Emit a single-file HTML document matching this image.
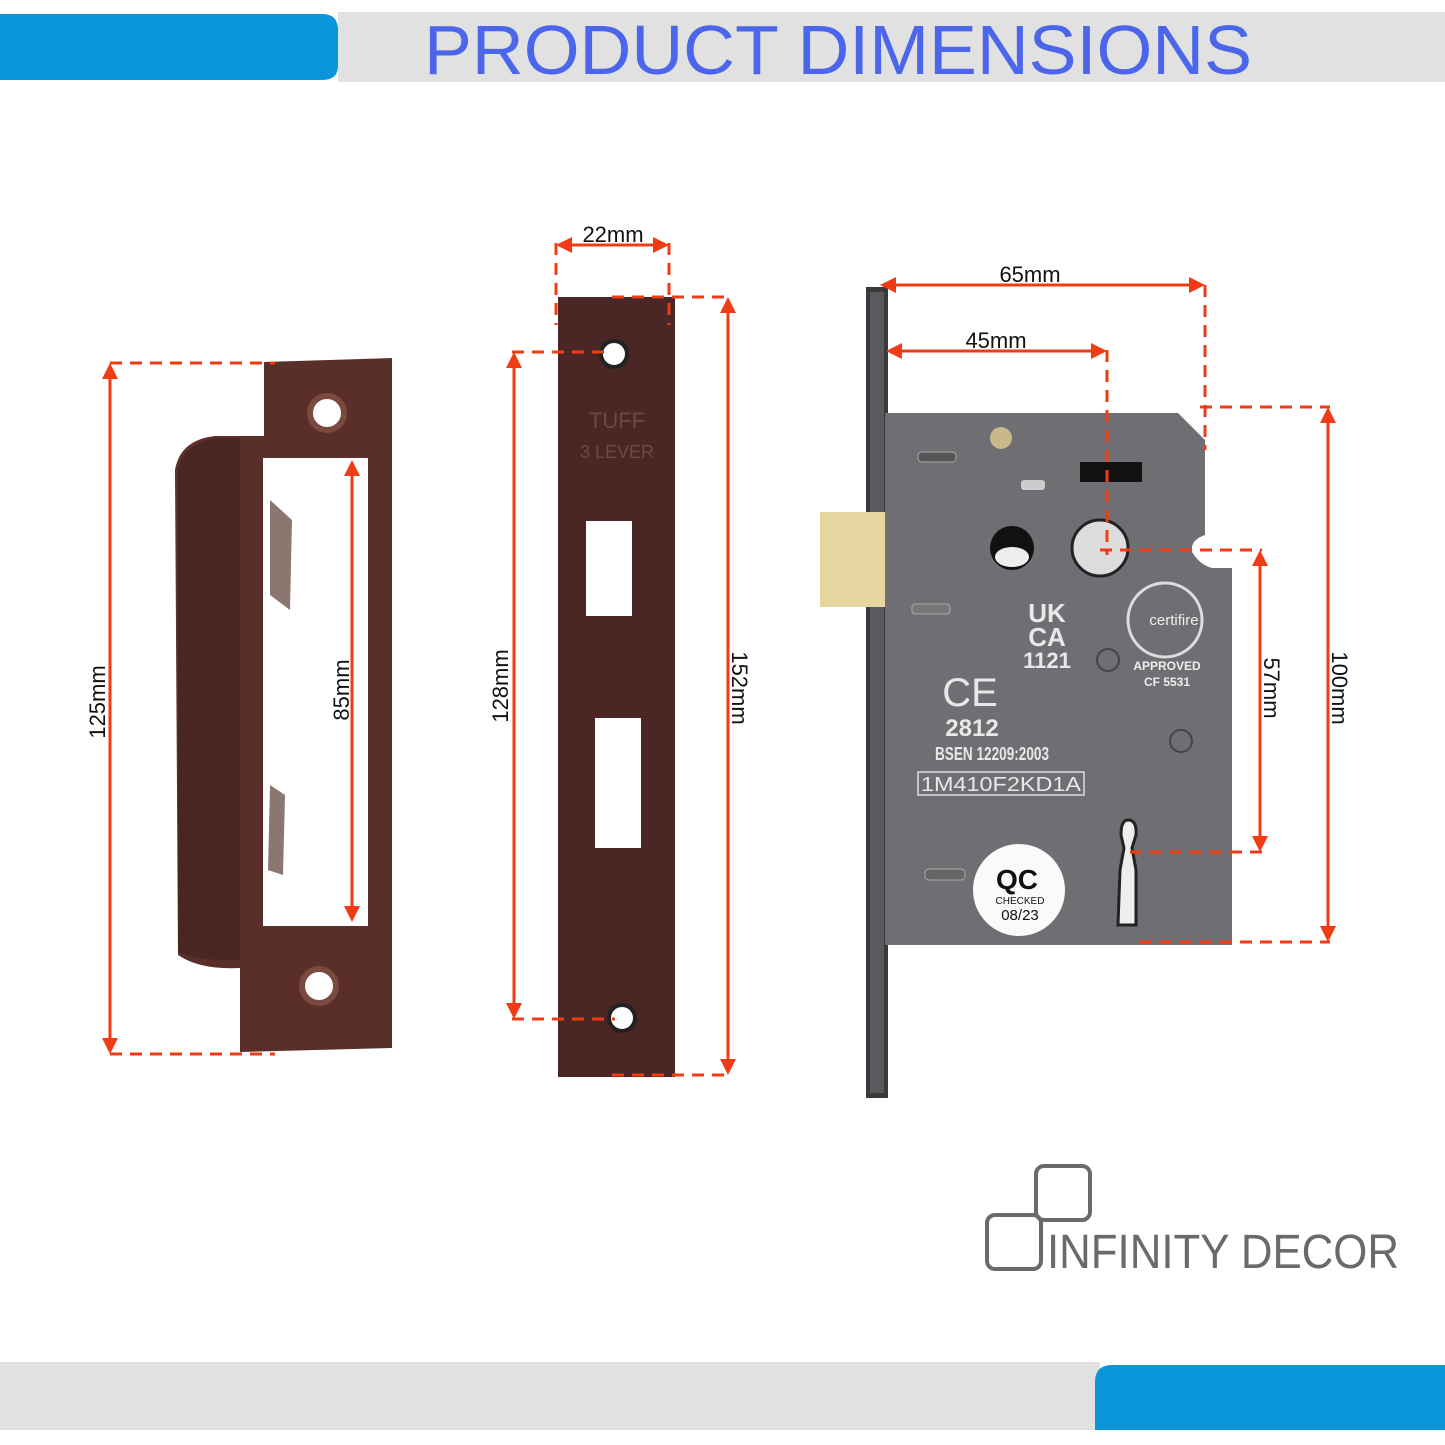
<!DOCTYPE html>
<html><head><style>
html,body{margin:0;padding:0;background:#fff;}
svg{display:block;}
text{font-family:"Liberation Sans",sans-serif;}
</style></head><body>
<svg width="1445" height="1445" viewBox="0 0 1445 1445" xmlns="http://www.w3.org/2000/svg">
<rect width="1445" height="1445" fill="#fff"/>
<!-- header -->
<rect x="338" y="12" width="1107" height="70" fill="#e1e1e1"/>
<path d="M0 14 H322 Q338 14 338 30 V66 Q338 80 322 80 H0 Z" fill="#0b95d9"/>
<text x="838" y="74" text-anchor="middle" font-family="Liberation Serif,serif" font-size="70" fill="#4b66ea" textLength="828" lengthAdjust="spacingAndGlyphs">PRODUCT  DIMENSIONS</text>
<!-- footer -->
<rect x="0" y="1362" width="1100" height="68" fill="#e1e1e1"/>
<path d="M1095 1430 V1382 Q1095 1365 1112 1365 H1445 V1430 Z" fill="#0b95d9"/>

<!-- left strike plate -->
<path d="M264 362 L392 358 L392 1048 L240 1052 L240 968 Q200 970 178 955 L175 470 Q180 440 215 436 L264 436 Z" fill="#5a2f29"/>
<path d="M178 470 Q182 445 215 438 L240 438 L240 960 Q205 962 178 952 Z" fill="#4a2622"/>
<rect x="263" y="458" width="105" height="468" fill="#fff"/>
<path d="M270 500 L292 520 L290 610 L270 595 Z" fill="#8a7870"/>
<path d="M270 785 L285 795 L283 875 L268 870 Z" fill="#8a7870"/>
<circle cx="327" cy="413" r="17" fill="#fff" stroke="#7a4a3e" stroke-width="6"/>
<circle cx="319" cy="986" r="17" fill="#fff" stroke="#7a4a3e" stroke-width="6"/>

<!-- middle plate -->
<rect x="558" y="297" width="117" height="780" fill="#4a2724"/>
<rect x="586" y="521" width="46" height="95" fill="#fff"/>
<rect x="595" y="718" width="46" height="130" fill="#fff"/>
<circle cx="614" cy="354" r="13" fill="#fff" stroke="#222" stroke-width="4"/>
<circle cx="622" cy="1018" r="13" fill="#fff" stroke="#222" stroke-width="4"/>
<text x="617" y="428" text-anchor="middle" font-size="22" fill="#6a4a44">TUFF</text>
<text x="617" y="458" text-anchor="middle" font-size="18" fill="#6a4a44">3 LEVER</text>

<!-- lock -->
<rect x="866" y="287" width="22" height="811" fill="#3a3a3c"/>
<rect x="870" y="292" width="14" height="801" fill="#5a5a5e"/>
<rect x="820" y="512" width="68" height="95" fill="#e6d7a0"/>
<path d="M885 413 H1178 L1205 440 V535 Q1190 540 1192 552 Q1200 565 1212 568 L1232 568 V945 H885 Z" fill="#6f6f73"/>
<circle cx="1001" cy="438" r="11" fill="#c9b98a"/>
<rect x="918" y="452" width="38" height="10" rx="4" fill="#555" stroke="#aaa"/>
<rect x="1021" y="480" width="24" height="10" rx="3" fill="#ccc"/>
<rect x="1080" y="462" width="62" height="20" fill="#111"/>
<circle cx="1012" cy="548" r="22" fill="#111"/>
<ellipse cx="1012" cy="557" rx="17" ry="10" fill="#eee"/>
<circle cx="1100" cy="548" r="28" fill="#ddd" stroke="#222" stroke-width="3"/>
<rect x="912" y="604" width="38" height="10" rx="3" fill="#777" stroke="#aaa"/>
<text x="1047" y="622" text-anchor="middle" font-size="26" font-weight="bold" fill="#e8e8e8">UK</text>
<text x="1047" y="646" text-anchor="middle" font-size="26" font-weight="bold" fill="#e8e8e8">CA</text>
<text x="1047" y="668" text-anchor="middle" font-size="22" font-weight="bold" fill="#e8e8e8">1121</text>
<circle cx="1165" cy="620" r="37" fill="none" stroke="#ddd" stroke-width="3"/>
<text x="1174" y="625" text-anchor="middle" font-family="Liberation Serif,serif" font-size="15" fill="#eee">certifire</text>
<text x="1167" y="670" text-anchor="middle" font-size="12" font-weight="bold" fill="#eee">APPROVED</text>
<text x="1167" y="686" text-anchor="middle" font-size="12" font-weight="bold" fill="#eee">CF 5531</text>
<circle cx="1108" cy="660" r="11" fill="none" stroke="#444" stroke-width="2"/>
<circle cx="1181" cy="741" r="11" fill="none" stroke="#444" stroke-width="2"/>
<text x="970" y="706" text-anchor="middle" font-size="40" fill="#e8e8e8">CE</text>
<text x="972" y="736" text-anchor="middle" font-size="24" font-weight="bold" fill="#e8e8e8">2812</text>
<text x="992" y="760" text-anchor="middle" font-size="18" font-weight="bold" fill="#e8e8e8" textLength="114" lengthAdjust="spacingAndGlyphs">BSEN 12209:2003</text>
<rect x="918" y="772" width="166" height="23" fill="none" stroke="#ddd" stroke-width="1.5"/>
<text x="1001" y="791" text-anchor="middle" font-size="20" fill="#e8e8e8" textLength="160" lengthAdjust="spacingAndGlyphs">1M410F2KD1A</text>
<rect x="925" y="869" width="40" height="11" rx="4" fill="#666" stroke="#aaa"/>
<circle cx="1019" cy="890" r="46" fill="#fafafa"/>
<text x="1017" y="889" text-anchor="middle" font-size="28" font-weight="bold" fill="#111">QC</text>
<text x="1020" y="904" text-anchor="middle" font-size="10" fill="#111">CHECKED</text>
<text x="1020" y="920" text-anchor="middle" font-size="15" fill="#111">08/23</text>
<path d="M1121 835 Q1121 820 1128 820 Q1137 820 1136 835 L1132 848 L1136 870 L1136 925 L1118 925 L1120 870 L1124 848 Z" fill="#eee" stroke="#222" stroke-width="3"/>

<!-- dimension lines -->
<g stroke="#f03c14" stroke-width="3" fill="none" stroke-dasharray="12 8">
<line x1="110" y1="363" x2="275" y2="363"/>
<line x1="110" y1="1054" x2="275" y2="1054"/>
<line x1="512" y1="352" x2="610" y2="352"/>
<line x1="512" y1="1019" x2="615" y2="1019"/>
<line x1="612" y1="297" x2="730" y2="297"/>
<line x1="612" y1="1075" x2="730" y2="1075"/>
<line x1="556" y1="243" x2="556" y2="325"/>
<line x1="669" y1="243" x2="669" y2="325"/>
<line x1="1205" y1="285" x2="1205" y2="450"/>
<line x1="1107" y1="350" x2="1107" y2="555"/>
<line x1="1200" y1="407" x2="1330" y2="407"/>
<line x1="1140" y1="942" x2="1330" y2="942"/>
<line x1="1100" y1="550" x2="1262" y2="550"/>
<line x1="1130" y1="852" x2="1262" y2="852"/>
</g>
<g stroke="#f03c14" stroke-width="3">
<line x1="110" y1="372" x2="110" y2="1045"/>
<line x1="352" y1="468" x2="352" y2="914"/>
<line x1="514" y1="360" x2="514" y2="1012"/>
<line x1="728" y1="306" x2="728" y2="1066"/>
<line x1="565" y1="245" x2="660" y2="245"/>
<line x1="888" y1="285" x2="1196" y2="285"/>
<line x1="894" y1="351" x2="1098" y2="351"/>
<line x1="1328" y1="416" x2="1328" y2="933"/>
<line x1="1260" y1="559" x2="1260" y2="843"/>
</g>
<g fill="#f03c14">
<path d="M110 363 l-8 16 h16z"/><path d="M110 1054 l-8 -16 h16z"/>
<path d="M352 460 l-8 16 h16z"/><path d="M352 922 l-8 -16 h16z"/>
<path d="M514 352 l-8 16 h16z"/><path d="M514 1019 l-8 -16 h16z"/>
<path d="M728 297 l-8 16 h16z"/><path d="M728 1075 l-8 -16 h16z"/>
<path d="M556 245 l16 -8 v16z"/><path d="M669 245 l-16 -8 v16z"/>
<path d="M880 285 l16 -8 v16z"/><path d="M1205 285 l-16 -8 v16z"/>
<path d="M886 351 l16 -8 v16z"/><path d="M1107 351 l-16 -8 v16z"/>
<path d="M1328 407 l-8 16 h16z"/><path d="M1328 942 l-8 -16 h16z"/>
<path d="M1260 550 l-8 16 h16z"/><path d="M1260 852 l-8 -16 h16z"/>
</g>
<g font-size="22" fill="#111">
<text x="613" y="242" text-anchor="middle">22mm</text>
<text x="1030" y="282" text-anchor="middle">65mm</text>
<text x="996" y="348" text-anchor="middle">45mm</text>
<text transform="translate(105,702) rotate(-90)" text-anchor="middle">125mm</text>
<text transform="translate(349,690) rotate(-90)" text-anchor="middle">85mm</text>
<text transform="translate(508,686) rotate(-90)" text-anchor="middle">128mm</text>
<text transform="translate(732,688) rotate(90)" text-anchor="middle">152mm</text>
<text transform="translate(1264,688) rotate(90)" text-anchor="middle">57mm</text>
<text transform="translate(1332,688) rotate(90)" text-anchor="middle">100mm</text>
</g>

<!-- logo -->
<g fill="none" stroke="#6a6a6a" stroke-width="4">
<rect x="1036" y="1166" width="54" height="54" rx="8"/>
<rect x="987" y="1215" width="54" height="54" rx="8"/>
</g>
<text x="1047" y="1268" font-size="48" fill="#6a6a6a" textLength="352" lengthAdjust="spacingAndGlyphs">INFINITY DECOR</text>
</svg>
</body></html>
